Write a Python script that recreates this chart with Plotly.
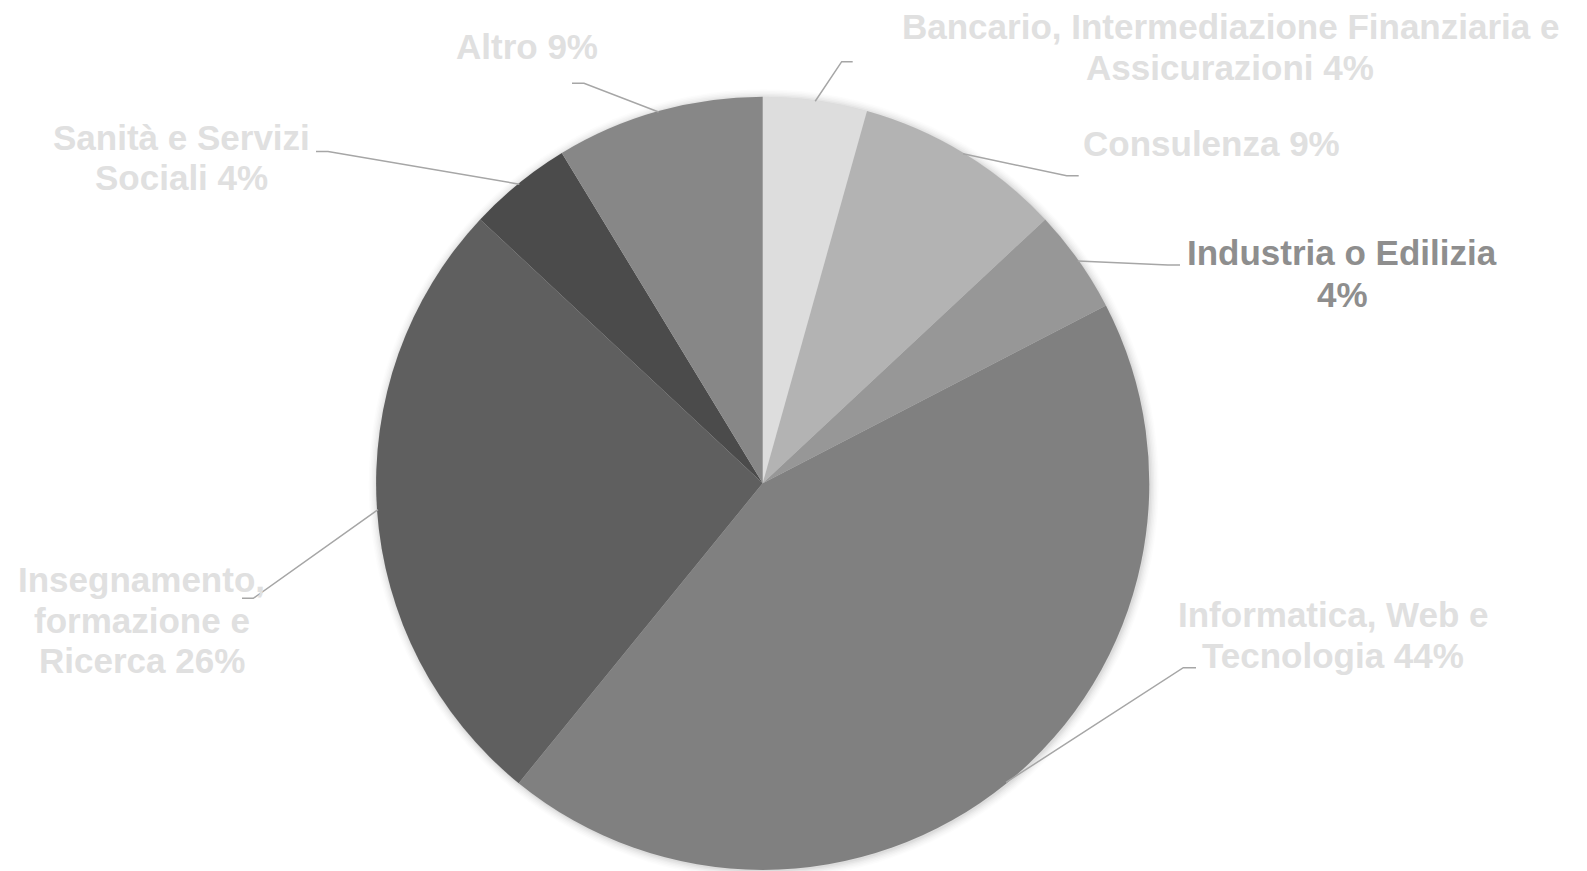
import math
import plotly.graph_objects as go

# ---- data ----
categories = [
    "Bancario, Intermediazione Finanziaria e Assicurazioni",
    "Consulenza",
    "Industria o Edilizia",
    "Informatica, Web e Tecnologia",
    "Insegnamento, formazione e Ricerca",
    "Sanità e Servizi Sociali",
    "Altro",
]
counts = [1, 2, 1, 10, 6, 1, 2]
label_lines = [
    ["Bancario, Intermediazione Finanziaria e", "Assicurazioni 4%"],
    ["Consulenza 9%"],
    ["Industria o Edilizia", "4%"],
    ["Informatica, Web e", "Tecnologia 44%"],
    ["Insegnamento,", "formazione e", "Ricerca 26%"],
    ["Sanità e Servizi", "Sociali 4%"],
    ["Altro 9%"],
]

# ---- styling / layout ----
W, H = 1587, 871
OFF = 8  # page body margin offset
slice_colors = ["#dddddd", "#b3b3b3", "#979797", "#808080", "#5f5f5f", "#4b4b4b", "#878787"]
label_colors = ["#e0e0e0", "#e0e0e0", "#8e8e8e", "#e0e0e0", "#e0e0e0", "#e0e0e0", "#e0e0e0"]
CX, CY, R = 762.7, 483.3, 386.6  # pie centre / radius in page pixels
FONT = "Liberation Sans, Arial, sans-serif"
FS = 35
# label text centres (x, [y per line]) in page pixels
label_pos = [
    (1230, [26, 67.5]),
    (1211, [143.5]),
    (1342, [252.5, 295]),
    (1333, [614, 655.5]),
    (141.5, [579, 620, 660.5]),
    (181.5, [137, 177.5]),
    (526.7, [46]),
]
# leader line elbows and ends in page pixels
leader_elbow = [(841.7, 61.7), (1066.7, 175.7), (1168, 265), (1183.3, 667.7),
                (253.3, 598.3), (328, 151.6), (584, 83.3)]
leader_end = [(852.7, 61.7), (1078.7, 175.7), (1180, 265), (1196, 667.7),
              (242, 598.3), (316, 151.6), (572, 83.3)]


def px(x):
    return (x - OFF) / W


def py(y):
    return 1 - (y - OFF) / H


fig = go.Figure(go.Pie(
    labels=categories,
    values=counts,
    sort=False,
    direction="clockwise",
    rotation=0,
    marker=dict(colors=slice_colors, line=dict(width=0)),
    textinfo="none",
    hoverinfo="label+percent",
    showlegend=False,
    domain=dict(x=[px(CX - R), px(CX + R)], y=[py(CY + R), py(CY - R)]),
))

shapes = []
# soft shadow halo around the pie
for i, a in enumerate([0.035, 0.03, 0.025, 0.02, 0.015, 0.01]):
    rr = R + 1 + i * 1.5
    shapes.append(dict(type="circle", xref="paper", yref="paper",
                       x0=px(CX - rr + 1), x1=px(CX + rr + 1),
                       y0=py(CY + rr + 1), y1=py(CY - rr + 1),
                       fillcolor=f"rgba(0,0,0,{a})", line=dict(width=0), layer="below"))

total = sum(counts)
cum = 0
annotations = []
for i, v in enumerate(counts):
    mid = (cum + v / 2) / total * 2 * math.pi
    cum += v
    sx = CX + (R - 1) * math.sin(mid)
    sy = CY - (R - 1) * math.cos(mid)
    ex, ey = leader_elbow[i]
    tx, ty = leader_end[i]
    path = f"M {px(sx)},{py(sy)} L {px(ex)},{py(ey)} L {px(tx)},{py(ty)}"
    shapes.append(dict(type="path", xref="paper", yref="paper", path=path,
                       line=dict(color="#a6a6a6", width=1.5), layer="above"))
    lx, lys = label_pos[i]
    for line, ly in zip(label_lines[i], lys):
        annotations.append(dict(
            text=line, x=px(lx), y=py(ly), xref="paper", yref="paper",
            xanchor="center", yanchor="middle", showarrow=False,
            font=dict(family=FONT, size=FS, color=label_colors[i], weight="bold"),
        ))

fig.update_layout(
    width=W, height=H,
    margin=dict(l=0, r=0, t=0, b=0),
    paper_bgcolor="white", plot_bgcolor="white",
    shapes=shapes, annotations=annotations,
)

fig.write_html("out.html")
